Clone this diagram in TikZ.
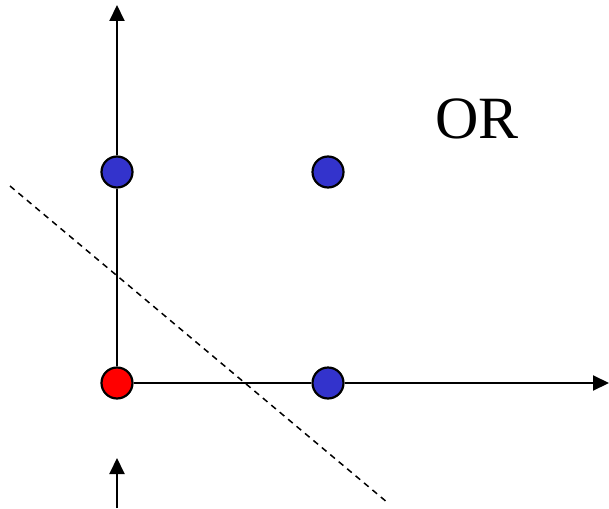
\documentclass[tikz,border=0pt]{standalone}
\usepackage{fontspec}
\setmainfont{Liberation Serif}
\usetikzlibrary{arrows.meta}
\definecolor{dotblue}{RGB}{51,51,204}
\tikzset{
  dot/.style={circle, draw=black, line width=2.2pt, minimum size=31pt, inner sep=0pt},
  axis/.style={line width=2pt, -{Triangle[length=16pt,width=15pt]}}
}

\begin{document}
\begin{tikzpicture}[x=1pt, y=-1pt]
    \useasboundingbox (0,0) rectangle (609,508);

    % input points
    \node[dot, fill=red] (p00) at (117,383) {};
    \node[dot, fill=dotblue] (p01) at (117,172) {};
    \node[dot, fill=dotblue] (p11) at (328,172) {};
    \node[dot, fill=dotblue] (p10) at (328,383) {};

    % axes
    \coordinate (ytop) at (117,5);
    \coordinate (xend) at (609,383);
    \draw[line width=2pt] (p00) -- (p01);
    \draw[axis] (p01) -- (ytop);
    \draw[line width=2pt] (p00) -- (p10);
    \draw[axis] (p10) -- (xend);

    % small arrow below
    \coordinate (bstart) at (117,508);
    \coordinate (bend) at (117,458);
    \draw[axis] (bstart) -- (bend);

    % separating line
    \coordinate (sepA) at (10,186);
    \coordinate (sepB) at (388,503);
    \draw[dashed, line width=1.5pt, dash pattern=on 6pt off 5pt] (sepA) -- (sepB);

    % label
    \node[anchor=base west, inner sep=0pt, font=\fontsize{60}{60}\selectfont] (title) at (435,138) {OR};
\end{tikzpicture}
\end{document}
